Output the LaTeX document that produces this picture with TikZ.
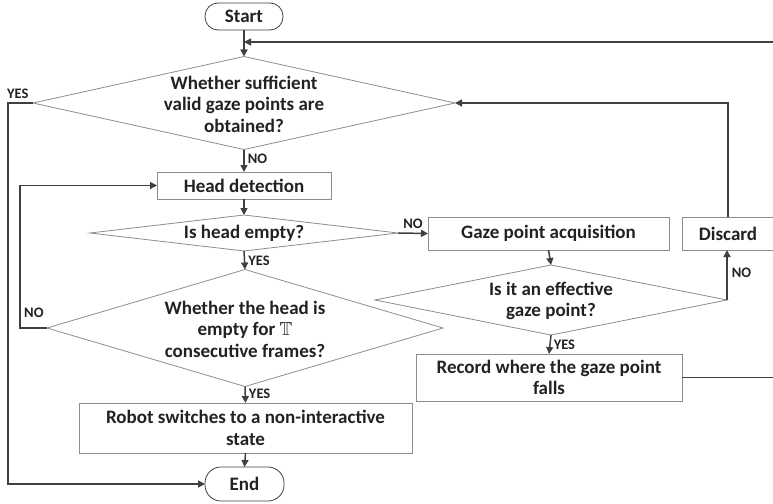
\documentclass[tikz,border=0pt]{standalone}
\usepackage{fontspec}
\setmainfont{Carlito}
\usepackage{amssymb}
\usetikzlibrary{shapes.geometric,arrows.meta}
\definecolor{ln}{HTML}{404040}
\definecolor{bd}{HTML}{8C8C8C}
\definecolor{tx}{HTML}{222222}
\begin{document}
\begin{tikzpicture}[x=1pt,y=-1pt,
  box/.style={draw=bd, line width=0.8pt, fill=white, inner sep=0pt, outer sep=0pt, align=center,
    font=\bfseries\fontsize{19}{21.5}\selectfont, text=tx},
  term/.style={box, draw=ln, rounded corners=13pt},
  dia/.style={diamond, draw=bd, line width=0.8pt, inner sep=0pt, outer sep=0pt},
  txt/.style={font=\bfseries\fontsize{19}{21.5}\selectfont, text=tx, align=center, inner sep=0pt},
  lab/.style={font=\bfseries\fontsize{14.5}{16}\selectfont, text=tx, inner sep=0pt},
  conn/.style={draw=ln, line width=1.5pt},
  arr/.style={conn, -{Triangle[length=7pt,width=7pt]}},
]
\useasboundingbox (0,0) rectangle (773,503);

% nodes
\node[term, minimum width=78pt, minimum height=27pt] (start) at (244,16.5) {Start};
\node[dia, minimum width=422pt, minimum height=93pt] (d1) at (244,103) {};
\node[txt] (t1) at (244,104) {Whether sufficient\\valid gaze points are\\obtained?};
\node[box, minimum width=174pt, minimum height=27pt] (head) at (244,185.5) {Head detection};
\node[dia, minimum width=308pt, minimum height=36pt] (d2) at (244,233) {};
\node[txt] (t2) at (244,233) {Is head empty?};
\node[box, minimum width=241pt, minimum height=33pt] (gaze) at (548.5,233.5) {Gaze point acquisition};
\node[box, minimum width=92pt, minimum height=33pt] (disc) at (728,233.5) {Discard};
\node[dia, minimum width=352pt, minimum height=70pt] (d3) at (551,300) {};
\node[txt] (t3) at (551,301) {Is it an effective\\gaze point?};
\node[box, minimum width=266pt, minimum height=47pt] (rec) at (549,377.5) {Record where the gaze point\\falls};
\node[dia, minimum width=396pt, minimum height=117pt] (d4) at (245,328) {};
\node[txt] (t4) at (245,329) {Whether the head is\\empty for $\mathbb{T}$\\consecutive frames?};
\node[box, minimum width=333pt, minimum height=50pt] (robot) at (245.5,428) {Robot switches to a non-interactive\\state};
\node[term, minimum width=79pt, minimum height=34pt, rounded corners=16pt] (end) at (244.5,484) {End};

% free ends
\coordinate (rtop) at (775,42);
\coordinate (rrec) at (775,377.5);
\coordinate (lyes) at (8,103);
\coordinate (lno) at (20,328);

% connectors
\draw[arr] (start.south) -- (d1.north);
\draw[arr] (rtop) -- (rtop -| start.south);
\draw[conn] (rec.east) -- (rrec);
\draw[arr] (d1.south) -- (head.north) node[lab, pos=0.4, anchor=west, xshift=3pt] {NO};
\draw[arr] (head.south) -- (d2.north);
\draw[arr] (d2.east) -- (gaze.west) node[lab, pos=0.5, anchor=south, yshift=4pt] {NO};
\draw[arr] (d2.south) -- (d4.north) node[lab, pos=0.55, anchor=west, xshift=3pt] {YES};
\draw[arr] (gaze.south) -- (d3.north);
\draw[arr] (d3.east) -- (d3.east |- disc.south) node[lab, pos=0.55, anchor=west, xshift=4pt] {NO};
\draw[arr] (disc.north) |- (d1.east);
\draw[arr] (d3.south) -- (rec.north) node[lab, pos=0.5, anchor=west, xshift=3pt] {YES};
\draw[arr] (d4.west) -- (lno) |- (head.west);
\node[lab, anchor=south west] (nol) at (24,318) {NO};
\draw[arr] (d4.south) -- (robot.north) node[lab, pos=0.45, anchor=west, xshift=3pt] {YES};
\draw[arr] (robot.south) -- (end.north);
\draw[arr] (d1.west) -- (lyes) |- (end.west);
\node[lab, anchor=south west] (yesl) at (7,99) {YES};
\end{tikzpicture}
\end{document}
